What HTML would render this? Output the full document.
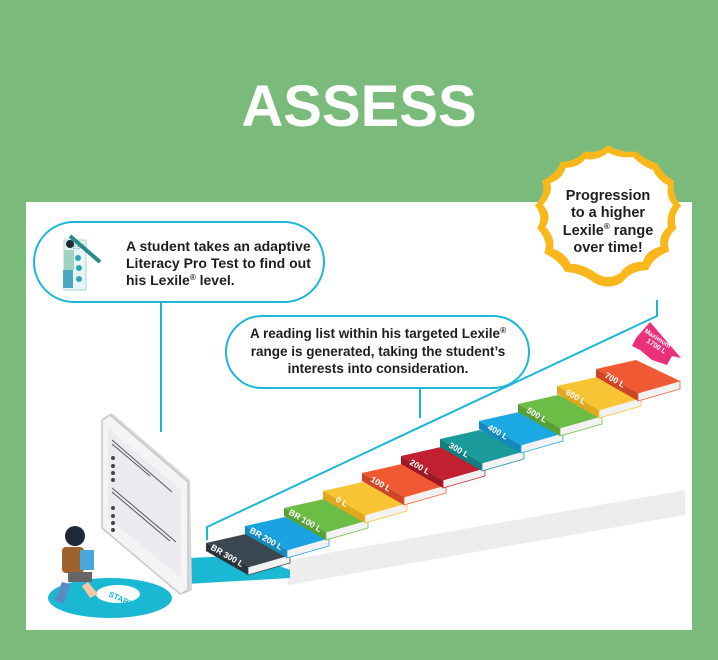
<!DOCTYPE html>
<html><head><meta charset="utf-8"><style>
html,body{margin:0;padding:0;}
body{width:718px;height:660px;background:#7aba7b;overflow:hidden;position:relative;font-family:"Liberation Sans",sans-serif;}
</style></head><body>
<svg width="718" height="660" viewBox="0 0 718 660" xmlns="http://www.w3.org/2000/svg" style="position:absolute;left:0;top:0">
<text x="359" y="126" text-anchor="middle" font-family="Liberation Sans" font-weight="bold" font-size="58" fill="#fff">ASSESS</text>
<rect x="26" y="202" width="666" height="428" fill="#fff"/>
<!-- shadow strip -->
<polygon points="288,560 685,490 685,515 288,585" fill="#e9e9e9" opacity="0.8"/>
<!-- floor -->
<polygon points="150,560 250,555 290,570 290,578 170,585" fill="#1bb8d4"/>
<ellipse cx="110" cy="598" rx="62" ry="20" fill="#1bb8d4"/>
<ellipse cx="118" cy="594" rx="22" ry="9" fill="#fff"/>
<text x="108" y="596" font-size="8" font-weight="bold" fill="#1bb8d4" transform="rotate(25 108 596)">START</text>
<!-- connectors -->
<polyline points="161,300 161,432" fill="none" stroke="#1bb8d4" stroke-width="2"/>
<polyline points="207,540 207,527 657,316 657,300" fill="none" stroke="#1bb8d4" stroke-width="2"/>
<line x1="420" y1="388" x2="420" y2="418" stroke="#1bb8d4" stroke-width="2"/>
<!-- tablet -->
<polygon points="103,418 112,413 190,480 192,590 184,594 103,530" fill="#d9d9d9"/>
<polygon points="102,420 110,415 188,482 188,590 180,594 102,528" fill="#f4f4f4" stroke="#c8c8c8" stroke-width="1.5"/>
<polygon points="108,428 181,490 181,578 108,518" fill="#eceaf0"/>
<g stroke="#555" stroke-width="1">
<line x1="112" y1="440" x2="172" y2="492"/><line x1="112" y1="444" x2="150" y2="476"/>
<line x1="112" y1="488" x2="176" y2="542"/><line x1="112" y1="492" x2="170" y2="541"/>
</g>
<g fill="#444"><circle cx="113" cy="458" r="2"/><circle cx="113" cy="466" r="2"/><circle cx="113" cy="473" r="2"/><circle cx="113" cy="480" r="2"/>
<circle cx="113" cy="508" r="2"/><circle cx="113" cy="516" r="2"/><circle cx="113" cy="523" r="2"/><circle cx="113" cy="530" r="2"/></g>
<!-- boy -->
<circle cx="75" cy="536" r="10" fill="#1e2a3a"/>
<rect x="62" y="547" width="22" height="26" rx="4" fill="#a0622d"/>
<rect x="80" y="550" width="14" height="20" fill="#4aa8d8"/>
<rect x="68" y="572" width="24" height="10" fill="#666"/>
<polygon points="55,600 62,582 70,584 64,604" fill="#5a8ac4"/>
<polygon points="88,582 98,594 90,598 82,586" fill="#f2c9a5"/>
<!-- books -->
<g font-family="Liberation Sans" font-weight="bold" font-size="8.5" fill="#fff">
<g transform="translate(206,543)"><polygon points="0,0 40,-9 84,12 42,24" fill="#3a4750"/><polygon points="0,0 42,24 42,32 0,8" fill="#2a343b"/><polygon points="42,24 84,12 84,20 42,32" fill="#f2f2f2" stroke="#3a4750" stroke-width="0.8"/><text x="4" y="6" transform="rotate(30 4 6)">BR 300 L</text></g>
<g transform="translate(245,526)"><polygon points="0,0 40,-9 84,12 42,24" fill="#1aa3e0"/><polygon points="0,0 42,24 42,32 0,8" fill="#1589bd"/><polygon points="42,24 84,12 84,20 42,32" fill="#f2f2f2" stroke="#1aa3e0" stroke-width="0.8"/><text x="4" y="6" transform="rotate(30 4 6)">BR 200 L</text></g>
<g transform="translate(284,508)"><polygon points="0,0 40,-9 84,12 42,24" fill="#6cbd45"/><polygon points="0,0 42,24 42,32 0,8" fill="#57a035"/><polygon points="42,24 84,12 84,20 42,32" fill="#f2f2f2" stroke="#6cbd45" stroke-width="0.8"/><text x="4" y="6" transform="rotate(30 4 6)">BR 100 L</text></g>
<g transform="translate(323,491)"><polygon points="0,0 40,-9 84,12 42,24" fill="#f9c433"/><polygon points="0,0 42,24 42,32 0,8" fill="#e0a820"/><polygon points="42,24 84,12 84,20 42,32" fill="#f2f2f2" stroke="#f9c433" stroke-width="0.8"/><text x="12" y="10" transform="rotate(30 12 10)">0 L</text></g>
<g transform="translate(362,473)"><polygon points="0,0 40,-9 84,12 42,24" fill="#ef5a35"/><polygon points="0,0 42,24 42,32 0,8" fill="#d04525"/><polygon points="42,24 84,12 84,20 42,32" fill="#f2f2f2" stroke="#ef5a35" stroke-width="0.8"/><text x="8" y="8" transform="rotate(30 8 8)">100 L</text></g>
<g transform="translate(401,456)"><polygon points="0,0 40,-9 84,12 42,24" fill="#c0202f"/><polygon points="0,0 42,24 42,32 0,8" fill="#9e1825"/><polygon points="42,24 84,12 84,20 42,32" fill="#f2f2f2" stroke="#c0202f" stroke-width="0.8"/><text x="8" y="8" transform="rotate(30 8 8)">200 L</text></g>
<g transform="translate(440,439)"><polygon points="0,0 40,-9 84,12 42,24" fill="#1a9a9b"/><polygon points="0,0 42,24 42,32 0,8" fill="#137f80"/><polygon points="42,24 84,12 84,20 42,32" fill="#f2f2f2" stroke="#1a9a9b" stroke-width="0.8"/><text x="8" y="8" transform="rotate(30 8 8)">300 L</text></g>
<g transform="translate(479,421)"><polygon points="0,0 40,-9 84,12 42,24" fill="#1ba8e3"/><polygon points="0,0 42,24 42,32 0,8" fill="#1589bd"/><polygon points="42,24 84,12 84,20 42,32" fill="#f2f2f2" stroke="#1ba8e3" stroke-width="0.8"/><text x="8" y="8" transform="rotate(30 8 8)">400 L</text></g>
<g transform="translate(518,404)"><polygon points="0,0 40,-9 84,12 42,24" fill="#6cbd45"/><polygon points="0,0 42,24 42,32 0,8" fill="#57a035"/><polygon points="42,24 84,12 84,20 42,32" fill="#f2f2f2" stroke="#6cbd45" stroke-width="0.8"/><text x="8" y="8" transform="rotate(30 8 8)">500 L</text></g>
<g transform="translate(557,386)"><polygon points="0,0 40,-9 84,12 42,24" fill="#f9c433"/><polygon points="0,0 42,24 42,32 0,8" fill="#e0a820"/><polygon points="42,24 84,12 84,20 42,32" fill="#f2f2f2" stroke="#f9c433" stroke-width="0.8"/><text x="8" y="8" transform="rotate(30 8 8)">600 L</text></g>
<g transform="translate(596,369)"><polygon points="0,0 40,-9 84,12 42,24" fill="#ef5a35"/><polygon points="0,0 42,24 42,32 0,8" fill="#d04525"/><polygon points="42,24 84,12 84,20 42,32" fill="#f2f2f2" stroke="#ef5a35" stroke-width="0.8"/><text x="8" y="8" transform="rotate(30 8 8)">700 L</text></g>
</g>
<!-- maximum arrow -->
<polygon points="636,338 650,322 681,358 672,356 667,365 652,360 640,350 632,346" fill="#e8317a"/>
<text x="644" y="332" font-size="6.5" font-weight="bold" fill="#fff" transform="rotate(33 644 332)">Maximum</text>
<text x="646" y="342" font-size="7" font-weight="bold" fill="#fff" transform="rotate(33 646 342)">1700 L</text>
<!-- bubble 1 -->
<rect x="34" y="222" width="290" height="80" rx="40" fill="#fff" stroke="#1bb8d4" stroke-width="2"/>
<rect x="64" y="240" width="22" height="50" fill="#e9f4f5" stroke="#9cc" stroke-width="0.8"/>
<text x="69" y="249" font-size="6" fill="#5aa">TEST</text>
<circle cx="78" cy="258" r="3" fill="#2aa8b8"/><circle cx="79" cy="268" r="3" fill="#2aa8b8"/><circle cx="79" cy="279" r="3" fill="#2aa8b8"/>
<circle cx="70" cy="244" r="4" fill="#1e2a3a"/><rect x="64" y="250" width="10" height="20" fill="#9fd3c0"/><rect x="63" y="270" width="10" height="18" fill="#4aa8c0"/>
<line x1="70" y1="236" x2="100" y2="262" stroke="#2a8a8a" stroke-width="4"/>
<g font-family="Liberation Sans" font-weight="bold" font-size="14" fill="#1e1e1e">
<text x="126" y="251">A student takes an adaptive</text>
<text x="126" y="268">Literacy Pro Test to find out</text>
<text x="126" y="285">his Lexile<tspan font-size="8" dy="-5">®</tspan><tspan dy="5"> level.</tspan></text>
</g>
<!-- bubble 2 -->
<rect x="226" y="316" width="303" height="72" rx="36" fill="#fff" stroke="#1bb8d4" stroke-width="2"/>
<g font-family="Liberation Sans" font-weight="bold" font-size="13.5" fill="#1e1e1e" text-anchor="middle">
<text x="378" y="338">A reading list within his targeted Lexile<tspan font-size="8" dy="-5">®</tspan></text>
<text x="378" y="356">range is generated, taking the student’s</text>
<text x="378" y="373">interests into consideration.</text>
</g>
<!-- badge -->
<g transform="translate(608,218) scale(1.18,1.04) translate(-608,-216)">
<path d="M608,146 Q620,154 632,152 Q640,160 650,164 Q656,176 664,180 Q662,194 670,204 Q662,214 666,226 Q656,236 660,248 Q646,254 642,266 Q628,266 620,278 Q608,286 596,278 Q584,268 572,268 Q566,256 554,250 Q558,238 548,226 Q554,214 546,204 Q556,192 552,180 Q564,174 568,162 Q580,162 588,152 Q600,154 608,146 Z" fill="#f8b81c"/>
<g transform="translate(608,216) scale(1.06,1.05) translate(-608,-216)">
<path d="M608,156 Q618,162 628,160 Q634,168 644,172 Q648,182 656,186 Q654,196 660,204 Q654,214 656,224 Q648,232 650,242 Q638,246 636,256 Q624,256 618,266 Q608,274 598,266 Q588,258 578,258 Q574,248 564,244 Q566,234 558,224 Q564,214 556,204 Q564,194 562,184 Q572,180 574,170 Q584,170 590,162 Q600,164 608,156 Z" fill="#fff"/>
</g>
</g>
<g font-family="Liberation Sans" font-weight="bold" font-size="14.5" fill="#1e1e1e" text-anchor="middle">
<text x="608" y="200">Progression</text>
<text x="608" y="217">to a higher</text>
<text x="608" y="235">Lexile<tspan font-size="8" dy="-6">®</tspan><tspan dy="6"> range</tspan></text>
<text x="608" y="252">over time!</text>
</g>
</svg>
</body></html>
